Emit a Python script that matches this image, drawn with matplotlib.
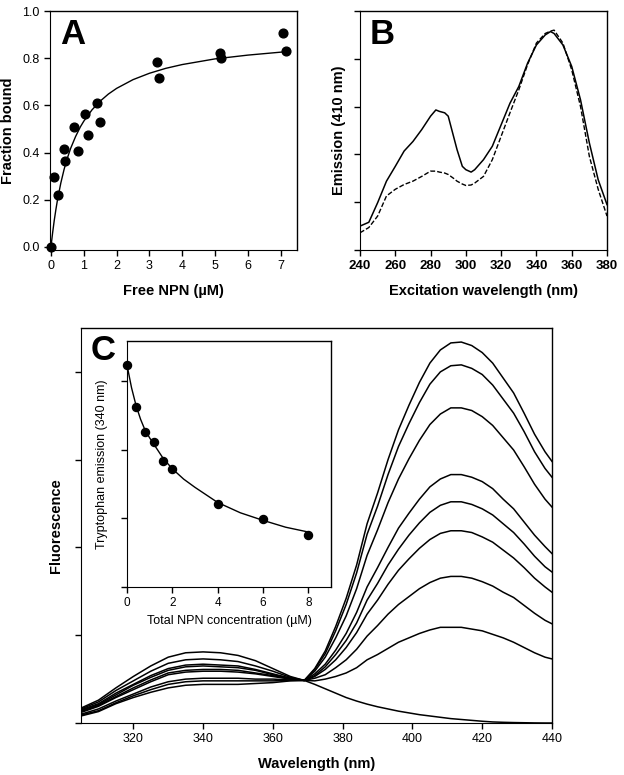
import numpy as np
import matplotlib
matplotlib.use("Agg")
import matplotlib.pyplot as plt

plt.rcParams['font.family'] = ['Liberation Sans', 'DejaVu Sans']

# ---- panel A: NPN binding ----
free_npn = [0.0, 0.10, 0.20, 0.39, 0.44, 0.70, 0.81, 1.04, 1.14, 1.39, 1.48,
            3.22, 3.29, 5.16, 5.19, 7.08, 7.17]
frac_bound = [0.0, 0.298, 0.218, 0.415, 0.366, 0.507, 0.408, 0.565, 0.473, 0.609, 0.531,
              0.782, 0.715, 0.821, 0.801, 0.905, 0.829]
fitA_x = [0, 0.02, 0.05, 0.1, 0.15, 0.2, 0.3, 0.4, 0.5, 0.6, 0.75, 0.9, 1.0, 1.25, 1.5,
          1.75, 2.0, 2.5, 3.0, 3.5, 4.0, 5.0, 6.0, 7.2]
fitA_y = [0, 0.025, 0.060, 0.113, 0.159, 0.201, 0.271, 0.329, 0.377, 0.418, 0.468, 0.510,
          0.533, 0.581, 0.618, 0.648, 0.672, 0.709, 0.736, 0.757, 0.773, 0.797, 0.813, 0.828]

# ---- panel B: excitation spectra ----
exc_wl = [240, 245, 250, 255, 260, 265, 270, 275, 280, 283, 285, 288, 290, 293, 295, 298,
          300, 303, 305, 310, 315, 320, 325, 330, 335, 340, 345, 348, 350, 355, 360, 365,
          370, 375, 380]
exc_solid = [0.50, 0.58, 0.99, 1.44, 1.75, 2.07, 2.27, 2.52, 2.80, 2.93, 2.90, 2.87, 2.80,
             2.38, 2.10, 1.75, 1.68, 1.63, 1.68, 1.89, 2.17, 2.62, 3.07, 3.42, 3.91, 4.29,
             4.50, 4.57, 4.53, 4.29, 3.84, 3.14, 2.24, 1.47, 0.95]
exc_dash = [0.36, 0.47, 0.71, 1.13, 1.27, 1.37, 1.44, 1.54, 1.65, 1.65, 1.63, 1.61, 1.58,
            1.50, 1.44, 1.38, 1.35, 1.36, 1.40, 1.54, 1.89, 2.38, 2.87, 3.35, 3.88, 4.33,
            4.53, 4.58, 4.60, 4.33, 3.77, 3.00, 1.96, 1.27, 0.71]

# ---- panel C: emission spectra ----
em_wl = [305, 310, 315, 320, 325, 330, 335, 340, 345, 350, 355, 360, 365, 369,
         372, 375, 378, 381, 384, 387, 390, 393, 396, 399, 402, 405, 408, 411, 414,
         417, 420, 423, 426, 429, 432, 435, 438, 440]
em_curves = [
    [0.08, 0.13, 0.22, 0.29, 0.35, 0.40, 0.43, 0.44, 0.44, 0.44, 0.45, 0.46, 0.48, 0.485,
     0.62, 0.82, 1.10, 1.42, 1.80, 2.27, 2.62, 3.00, 3.34, 3.62, 3.88, 4.10, 4.25, 4.33, 4.34,
     4.30, 4.22, 4.10, 3.93, 3.76, 3.53, 3.29, 3.09, 2.98],
    [0.09, 0.14, 0.23, 0.31, 0.38, 0.44, 0.47, 0.48, 0.48, 0.48, 0.48, 0.48, 0.485, 0.485,
     0.61, 0.79, 1.05, 1.35, 1.71, 2.15, 2.47, 2.83, 3.15, 3.41, 3.65, 3.86, 4.00, 4.07, 4.08,
     4.04, 3.97, 3.85, 3.69, 3.53, 3.32, 3.09, 2.90, 2.80],
    [0.10, 0.16, 0.25, 0.33, 0.41, 0.47, 0.50, 0.51, 0.51, 0.51, 0.50, 0.50, 0.49, 0.485,
     0.59, 0.75, 0.97, 1.22, 1.53, 1.91, 2.20, 2.51, 2.78, 3.01, 3.22, 3.40, 3.52, 3.59, 3.59,
     3.56, 3.49, 3.39, 3.25, 3.11, 2.92, 2.72, 2.55, 2.46],
    [0.12, 0.19, 0.29, 0.38, 0.47, 0.55, 0.58, 0.59, 0.59, 0.58, 0.56, 0.53, 0.50, 0.485,
     0.56, 0.67, 0.83, 1.02, 1.26, 1.55, 1.77, 2.00, 2.22, 2.39, 2.55, 2.69, 2.78, 2.83, 2.83,
     2.80, 2.75, 2.67, 2.55, 2.44, 2.29, 2.14, 2.01, 1.93],
    [0.13, 0.20, 0.30, 0.40, 0.49, 0.57, 0.60, 0.61, 0.61, 0.60, 0.57, 0.54, 0.50, 0.485,
     0.54, 0.64, 0.78, 0.94, 1.14, 1.40, 1.59, 1.80, 1.98, 2.14, 2.28, 2.40, 2.48, 2.52, 2.52,
     2.49, 2.44, 2.37, 2.27, 2.17, 2.04, 1.90, 1.78, 1.72],
    [0.14, 0.21, 0.32, 0.43, 0.52, 0.60, 0.64, 0.65, 0.64, 0.63, 0.60, 0.55, 0.51, 0.485,
     0.53, 0.61, 0.72, 0.86, 1.03, 1.24, 1.40, 1.58, 1.74, 1.87, 1.99, 2.09, 2.16, 2.19, 2.19,
     2.17, 2.12, 2.06, 1.97, 1.88, 1.77, 1.65, 1.55, 1.49],
    [0.15, 0.22, 0.34, 0.44, 0.54, 0.62, 0.66, 0.67, 0.66, 0.65, 0.61, 0.56, 0.51, 0.485,
     0.51, 0.55, 0.63, 0.72, 0.84, 0.99, 1.11, 1.24, 1.35, 1.44, 1.53, 1.60, 1.65, 1.67, 1.67,
     1.65, 1.61, 1.56, 1.49, 1.43, 1.34, 1.25, 1.17, 1.13],
    [0.16, 0.24, 0.37, 0.48, 0.59, 0.68, 0.72, 0.73, 0.72, 0.70, 0.65, 0.59, 0.52, 0.485,
     0.48, 0.50, 0.53, 0.57, 0.63, 0.72, 0.78, 0.85, 0.92, 0.97, 1.02, 1.06, 1.09, 1.09, 1.09,
     1.07, 1.05, 1.01, 0.97, 0.92, 0.86, 0.80, 0.75, 0.73],
    [0.17, 0.26, 0.40, 0.53, 0.65, 0.75, 0.80, 0.81, 0.80, 0.77, 0.71, 0.62, 0.53, 0.485,
     0.44, 0.39, 0.34, 0.29, 0.25, 0.215, 0.185, 0.16, 0.135, 0.115, 0.095, 0.08, 0.065,
     0.05, 0.04, 0.03, 0.02, 0.012, 0.008, 0.005, 0.003, 0.001, 0.0, 0.0],
]

# ---- inset: tryptophan quenching ----
total_npn = [0, 0.4, 0.8, 1.2, 1.6, 2.0, 4.0, 6.0, 8.0]
trp_em = [3.23, 2.62, 2.26, 2.11, 1.83, 1.72, 1.21, 0.99, 0.75]
fitC_x = [0, 0.2, 0.4, 0.6, 0.8, 1.0, 1.2, 1.6, 2.0, 2.5, 3.0, 4.0, 5.0, 6.0, 7.0, 8.0]
fitC_y = [3.23, 2.90, 2.64, 2.44, 2.28, 2.17, 2.07, 1.87, 1.72, 1.57, 1.45, 1.23, 1.08,
          0.97, 0.87, 0.80]

W, H = 624, 775
fig = plt.figure(figsize=(W / 100, H / 100), dpi=100)


def px_axes(left, top, right, bottom):
    return fig.add_axes([left / W, 1 - bottom / H, (right - left) / W, (bottom - top) / H])


def style(ax):
    ax.spines['top'].set_linewidth(1.0)
    ax.spines['right'].set_linewidth(1.0)
    ax.tick_params(direction='out', length=4, width=1, top=False, right=False)


# A
axA = px_axes(50, 11, 297, 250)
style(axA)
axA.plot(fitA_x, fitA_y, color='black', lw=1)
axA.plot(free_npn, frac_bound, 'o', color='black', ms=6.3, clip_on=False)
axA.set_xlim(-0.03, 7.5)
axA.set_ylim(-0.013, 1.0)
axA.set_xticks(range(0, 8))
axA.set_yticks([0.0, 0.2, 0.4, 0.6, 0.8, 1.0])
axA.set_yticklabels(['0.0', '0.2', '0.4', '0.6', '0.8', '1.0'])
axA.tick_params(labelsize=9)
axA.set_xlabel('Free NPN (\u00b5M)', fontsize=10.5, fontweight='bold', labelpad=8)
axA.set_ylabel('Fraction bound', fontsize=10.5, fontweight='bold')
axA.yaxis.set_label_coords(-0.14, 0.5)
axA.text(0.04, 0.97, 'A', transform=axA.transAxes, fontsize=25, fontweight='bold',
         va='top', ha='left')

# B
axB = px_axes(360, 11, 607, 250)
style(axB)
axB.plot(exc_wl, exc_solid, color='black', lw=1.1)
axB.plot(exc_wl, exc_dash, color='black', lw=1.0, linestyle=(0, (3.5, 1.5)))
axB.set_xlim(240, 380)
axB.set_ylim(0, 5)
axB.set_xticks(range(240, 381, 20))
axB.set_yticks(range(0, 6))
axB.set_yticklabels([])
axB.tick_params(labelsize=9.5)
for lab in axB.get_xticklabels():
    lab.set_fontweight('bold')
axB.set_xlabel('Excitation wavelength (nm)', fontsize=10.5, fontweight='bold', labelpad=8)
axB.set_ylabel('Emission (410 nm)', fontsize=10.5, fontweight='bold')
axB.yaxis.set_label_coords(-0.057, 0.5)
axB.text(0.04, 0.97, 'B', transform=axB.transAxes, fontsize=25, fontweight='bold',
         va='top', ha='left')

# C
axC = px_axes(81, 328, 552, 723)
style(axC)
for ys in em_curves:
    axC.plot(em_wl, ys, color='black', lw=1.1)
axC.set_xlim(305, 440)
axC.set_ylim(0, 4.5)
axC.set_xticks(range(320, 441, 20))
axC.set_yticks(range(0, 5))
axC.set_yticklabels([])
axC.tick_params(labelsize=9)
axC.set_xlabel('Wavelength (nm)', fontsize=10.5, fontweight='bold', labelpad=8)
axC.set_ylabel('Fluorescence', fontsize=10.5, fontweight='bold')
axC.yaxis.set_label_coords(-0.038, 0.5)
axC.text(0.02, 0.985, 'C', transform=axC.transAxes, fontsize=25, fontweight='bold',
         va='top', ha='left')

# inset
axI = px_axes(127, 341, 331, 587)
style(axI)
axI.plot(fitC_x, fitC_y, color='black', lw=1)
axI.plot(total_npn, trp_em, 'o', color='black', ms=5.8, clip_on=False, zorder=3)
axI.set_xlim(0, 9)
axI.set_ylim(0, 3.58)
axI.set_xticks(range(0, 9, 2))
axI.set_yticks(range(0, 4))
axI.set_yticklabels([])
axI.tick_params(labelsize=8.5)
axI.set_xlabel('Total NPN concentration (\u00b5M)', fontsize=9, labelpad=4)
axI.set_ylabel('Tryptophan emission (340 nm)', fontsize=9)
axI.yaxis.set_label_coords(-0.093, 0.5)

fig.savefig('out.png', dpi=100)
